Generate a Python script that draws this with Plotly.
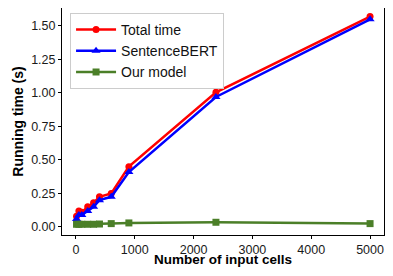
import plotly.graph_objects as go

cells = [10, 50, 100, 200, 300, 400, 600, 900, 2380, 5000]
total_time = [0.08, 0.12, 0.11, 0.15, 0.18, 0.225, 0.25, 0.45, 1.005, 1.57]
sbert_time = [0.06, 0.09, 0.09, 0.12, 0.15, 0.20, 0.225, 0.41, 0.97, 1.55]
our_time = [0.02, 0.02, 0.02, 0.02, 0.02, 0.022, 0.025, 0.03, 0.035, 0.025]
x_ticks = [0, 1000, 2000, 3000, 4000, 5000]
y_ticks = [0.0, 0.25, 0.5, 0.75, 1.0, 1.25, 1.5]

fig = go.Figure()
fig.add_trace(go.Scatter(x=cells, y=total_time, name="Total time", mode="lines+markers",
                         line=dict(color="#ff0000", width=2.5),
                         marker=dict(symbol="circle", size=7, color="#ff0000")))
fig.add_trace(go.Scatter(x=cells, y=sbert_time, name="SentenceBERT", mode="lines+markers",
                         line=dict(color="#0000ff", width=2.5),
                         marker=dict(symbol="triangle-up", size=8, color="#0000ff")))
fig.add_trace(go.Scatter(x=cells, y=our_time, name="Our model", mode="lines+markers",
                         line=dict(color="#4b7f28", width=2.5),
                         marker=dict(symbol="square", size=7, color="#4b7f28")))

axis_common = dict(showgrid=False, zeroline=False, showline=True, linecolor="black",
                   linewidth=1, mirror=True, ticks="outside", ticklen=3,
                   tickcolor="black", tickfont=dict(size=12.5, color="#1a1a1a"),
                   automargin=False)

fig.update_layout(
    width=377, height=260,
    margin=dict(l=54, r=1, t=0, b=33),
    paper_bgcolor="white", plot_bgcolor="white",
    font=dict(family="Liberation Sans, Arial, sans-serif", color="black"),
    xaxis=dict(range=[-237, 5237], tickvals=x_ticks,
               ticktext=[str(v) for v in x_ticks],
               **axis_common),
    yaxis=dict(range=[-0.06, 1.634], tickvals=y_ticks,
               ticktext=[f"{v:.2f}" for v in y_ticks],
               title=dict(text="<b>Running time (s)</b>", font=dict(size=14), standoff=4),
               **axis_common),
    legend=dict(x=0.025, y=0.978, xanchor="left", yanchor="top",
                bordercolor="#cccccc", borderwidth=1, bgcolor="rgba(255,255,255,0.8)",
                font=dict(size=14, color="#111111"), tracegroupgap=0,
                itemwidth=40),
    showlegend=True,
    annotations=[dict(text="<b>Number of input cells</b>", xref="paper", yref="paper",
                      x=0.5, y=-33 / 227, xanchor="center", yanchor="bottom",
                      showarrow=False, borderpad=0, font=dict(size=13.5, color="black"))],
)

fig.write_html("out.html")
